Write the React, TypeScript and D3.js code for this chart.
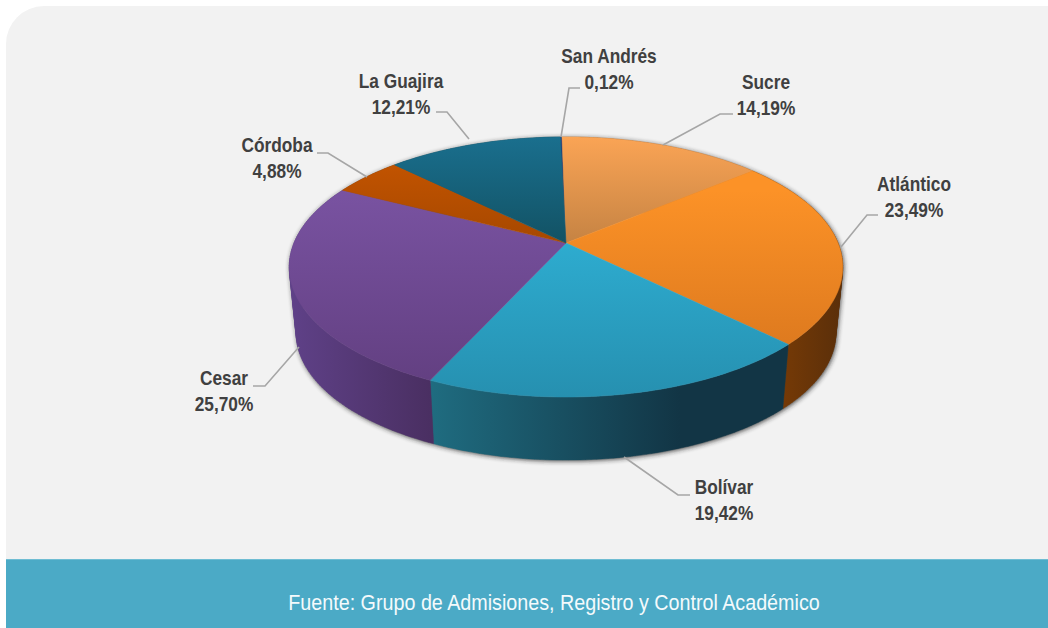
import React from "react";
import * as d3 from "d3";

const categories = ["San Andrés", "Sucre", "Atlántico", "Bolívar", "Cesar", "Córdoba", "La Guajira"];
const values = [0.12, 14.19, 23.49, 19.42, 25.7, 4.88, 12.21];
const valueLabels = ["0,12%", "14,19%", "23,49%", "19,42%", "25,70%", "4,88%", "12,21%"];

const topStops = [
  ["#1f3c7a", "#1f3c7a"],
  ["#faa455", "#c58343"],
  ["#fc9227", "#d4721c"],
  ["#30b5da", "#2690b0"],
  ["#7f58aa", "#613e7f"],
  ["#cb5700", "#a64800"],
  ["#1a6f8e", "#125264"],
];
const wallStops = [
  ["#1f3c7a", "#1f3c7a"],
  ["#a86a30", "#a86a30"],
  ["#763a06", "#5a2f0a"],
  ["#1f6c80", "#123545"],
  ["#5f4188", "#4a2f62"],
  ["#7a3a05", "#7a3a05"],
  ["#0f4a5c", "#0f4a5c"],
];

// Label layout: text centre, then leader-line points
const labelLayout = [
  { x: 609, y: 57, leader: [[561, 137], [569, 88], [580, 88]] },
  { x: 766, y: 83, leader: [[663, 145], [720, 114], [733, 114]] },
  { x: 914, y: 185, leader: [[841, 247], [867, 215], [878, 215]] },
  { x: 724, y: 488, leader: [[624, 457], [678, 495], [690, 495]] },
  { x: 224, y: 379, leader: [[299, 347], [265, 386], [253, 386]] },
  { x: 277, y: 146, leader: [[367, 177], [328, 153], [317, 153]] },
  { x: 401, y: 82, leader: [[469, 139], [447, 112], [436, 112]] },
];

const W = 1048;
const H = 628;
const CX = 566;
const CY = 243;
const A = 272;
const B = 125.6;
const P = 0.1846;
const DEPTH_SCALE = 0.975;
const DEPTH_Y = 73;
const START = (-1.43 * Math.PI) / 180;

type Pt = [number, number];

const project = (t: number): Pt => {
  const u = Math.sin(t);
  const v = Math.cos(t);
  const w = 1 + P * v;
  return [CX + (A * u) / w, CY - (B * v) / w];
};
const lower = ([x, y]: Pt): Pt => [CX + DEPTH_SCALE * (x - CX), DEPTH_SCALE * y + DEPTH_Y];

const pieGen = d3
  .pie<number>()
  .sort(null)
  .value((d) => d)
  .startAngle(START)
  .endAngle(START + 2 * Math.PI);
const arcs = pieGen(values);
const line = d3.line<Pt>();

const rim = (a0: number, a1: number) => {
  const n = Math.max(2, Math.ceil(((a1 - a0) * 180) / Math.PI));
  return d3.range(n + 1).map((i) => project(a0 + ((a1 - a0) * i) / n));
};
const topPath = (a0: number, a1: number) => line([[CX, CY], ...rim(a0, a1)])! + "Z";
// One consistently wound quad per step, so the fold at the sides does not cancel out.
const wallPath = (a0: number, a1: number) => {
  const r = rim(a0, a1);
  return d3
    .pairs(r)
    .map(([p, q]) => {
      const quad: Pt[] = [p, q, lower(q), lower(p)];
      if (d3.polygonArea(quad) < 0) quad.reverse();
      return line(quad)! + "Z";
    })
    .join("");
};

const FONT = "'Liberation Sans', Arial, sans-serif";

export default function App() {
  return (
    <svg
      width={W}
      height={H}
      viewBox={`0 0 ${W} ${H}`}
      style={{ position: "fixed", left: 0, top: 0, display: "block", background: "#fff" }}
    >
      <defs>
        <filter id="shadow" x="-10%" y="-10%" width="120%" height="120%">
          <feGaussianBlur stdDeviation="2.4" />
        </filter>
        {arcs.map((_, i) => (
          <linearGradient key={i} id={`top${i}`} gradientUnits="userSpaceOnUse" x1="0" x2="0" y1={i === 2 || i === 3 ? 190 : 137} y2={i === 1 ? 243 : i === 6 || i === 5 ? 243 : 397}>
            <stop offset="0" stopColor={topStops[i][0]} />
            <stop offset="1" stopColor={topStops[i][1]} />
          </linearGradient>
        ))}
        {arcs.map((a, i) => {
          const xs = rim(a.startAngle, a.endAngle).map((p) => p[0]);
          return (
            <linearGradient key={i} id={`wall${i}`} gradientUnits="userSpaceOnUse" x1={i === 3 ? 431 : i === 2 ? 780 : d3.min(xs)} x2={i === 3 ? 680 : d3.max(xs)} y1="0" y2="0">
              <stop offset="0" stopColor={wallStops[i][0]} />
              <stop offset="1" stopColor={wallStops[i][1]} />
            </linearGradient>
          );
        })}
      </defs>
      <path d={`M6,${H}V44A38,38 0 0 1 44,6H${W}V${H}Z`} fill="#f2f2f2" />
      <rect x={6} y={559} width={W - 6} height={H - 559} fill="#4baac6" />
      <rect x={6} y={559} width={W - 6} height={1} fill="#6fbdd3" />
      <text transform="translate(554 610) scale(0.897 1)" textAnchor="middle" fontFamily={FONT} fontSize={22} fill="#f4fafc">
        Fuente: Grupo de Admisiones, Registro y Control Académico
      </text>

      <g filter="url(#shadow)" opacity={0.85} transform="translate(1 1)">
        {arcs.map((a, i) => (
          <path key={i} d={wallPath(a.startAngle, a.endAngle)} fill="#222" />
        ))}
      </g>

      {arcs.map((a, i) => (
        <path key={i} d={wallPath(a.startAngle, a.endAngle)} fill={`url(#wall${i})`} stroke={`url(#wall${i})`} strokeWidth={0.4} />
      ))}
      {arcs.map((a, i) => (
        <path
          key={i}
          d={topPath(a.startAngle, a.endAngle)}
          fill={`url(#top${i})`}
          stroke={`url(#top${i})`}
          strokeWidth={0.5}
        />
      ))}

      {labelLayout.map((l, i) => (
        <g key={i}>
          <path d={line(l.leader as Pt[])!} fill="none" stroke="#a6a6a6" strokeWidth={1.6} />
          <g fontFamily={FONT} fontSize={20} fontWeight="bold" fill="#404040" textAnchor="middle">
            <text transform={`translate(${l.x} ${l.y + 6}) scale(0.865 1)`}>{categories[i]}</text>
            <text transform={`translate(${l.x} ${l.y + 31.5}) scale(0.865 1)`}>{valueLabels[i]}</text>
          </g>
        </g>
      ))}
    </svg>
  );
}
